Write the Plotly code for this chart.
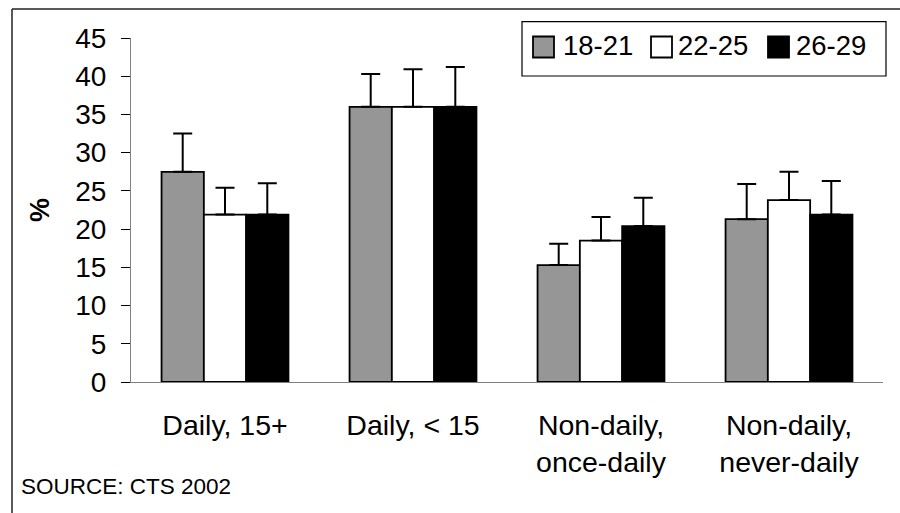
import plotly.graph_objects as go

# ---------------- data ----------------
categories = ["Daily, 15+", "Daily, < 15", "Non-daily,<br>once-daily", "Non-daily,<br>never-daily"]
series_names = ["18-21", "22-25", "26-29"]
values_18_21 = [27.5, 36.0, 15.3, 21.3]
errors_18_21 = [5.0, 4.3, 2.8, 4.6]
values_22_25 = [21.9, 36.0, 18.5, 23.8]
errors_22_25 = [3.5, 4.9, 3.1, 3.7]
values_26_29 = [21.9, 36.0, 20.4, 21.9]
errors_26_29 = [4.1, 5.2, 3.7, 4.4]
y_ticks = [0, 5, 10, 15, 20, 25, 30, 35, 40, 45]
source_text = "SOURCE: CTS 2002"
y_title = "%"

# ---------------- layout constants ----------------
W, H = 900, 513
ML, MR, MT, MB = 131, 17, 38, 131
PW, PH = W - ML - MR, H - MT - MB
FONT = "Liberation Sans, Arial, Helvetica, sans-serif"
fills = ["#969696", "#ffffff", "#000000"]


def px(x):
    return (x - ML) / PW


def py(y):
    return (H - MB - y) / PH


fig = go.Figure()
all_vals = [values_18_21, values_22_25, values_26_29]
all_errs = [errors_18_21, errors_22_25, errors_26_29]
for name, vals, errs, col in zip(series_names, all_vals, all_errs, fills):
    fig.add_trace(go.Bar(
        x=categories, y=vals, name=name,
        marker=dict(color=col, line=dict(color="#000000", width=1.8)),
        error_y=dict(type="data", symmetric=False, array=errs,
                     arrayminus=[0] * len(errs), color="#000000",
                     thickness=2, width=9.5),
        showlegend=False,
    ))

shapes = []
# outer frame (top and left edges)
shapes.append(dict(type="line", xref="paper", yref="paper",
                   x0=px(12), x1=px(905), y0=py(9), y1=py(9),
                   line=dict(color="#222222", width=1.5)))
shapes.append(dict(type="line", xref="paper", yref="paper",
                   x0=px(12), x1=px(12), y0=py(9), y1=py(520),
                   line=dict(color="#222222", width=1.5)))
# legend box
shapes.append(dict(type="rect", xref="paper", yref="paper",
                   x0=px(522), x1=px(886), y0=py(76), y1=py(21.7),
                   line=dict(color="#000000", width=1.2), fillcolor="rgba(0,0,0,0)"))

annotations = []
legend_x = [533, 651, 768]
text_x = [561, 676, 794]
for lx, tx, name, col in zip(legend_x, text_x, series_names, fills):
    shapes.append(dict(type="rect", xref="paper", yref="paper",
                       x0=px(lx), x1=px(lx + 21), y0=py(57.5), y1=py(36.5),
                       line=dict(color="#000000", width=1.8), fillcolor=col))
    annotations.append(dict(xref="paper", yref="paper", x=px(tx), y=py(45.5),
                            xanchor="left", yanchor="middle", showarrow=False,
                            text=name, font=dict(family=FONT, size=27.5, color="#000000")))

annotations.append(dict(xref="paper", yref="paper", x=px(19), y=py(486.5),
                        xanchor="left", yanchor="middle", showarrow=False,
                        text=source_text, font=dict(family=FONT, size=22.5, color="#000000")))
annotations.append(dict(xref="paper", yref="paper", x=px(40), y=py(210),
                        xanchor="center", yanchor="middle", showarrow=False,
                        textangle=-90, text="<b>" + y_title + "</b>",
                        font=dict(family=FONT, size=27, color="#000000")))

fig.update_layout(
    width=W, height=H,
    margin=dict(l=ML, r=MR, t=MT, b=MB, pad=0),
    paper_bgcolor="#ffffff", plot_bgcolor="#ffffff",
    barmode="group", bargap=0.325, bargroupgap=0,
    font=dict(family=FONT, size=28, color="#000000"),
    shapes=shapes, annotations=annotations,
    showlegend=False,
)
fig.update_xaxes(showline=True, linecolor="#808080", linewidth=1.2,
                 ticks="", showgrid=False, zeroline=False,
                 tickfont=dict(family=FONT, size=28.5, color="#000000"),
                 ticklabelstandoff=18)
fig.update_yaxes(range=[0, 45], tickvals=y_ticks, showline=True,
                 linecolor="#808080", linewidth=1.2, ticks="outside",
                 ticklen=9, tickwidth=1.2, tickcolor="#000000",
                 showgrid=False, zeroline=False,
                 tickfont=dict(family=FONT, size=28, color="#000000"),
                 ticklabelstandoff=9)

fig.write_html("out.html")
